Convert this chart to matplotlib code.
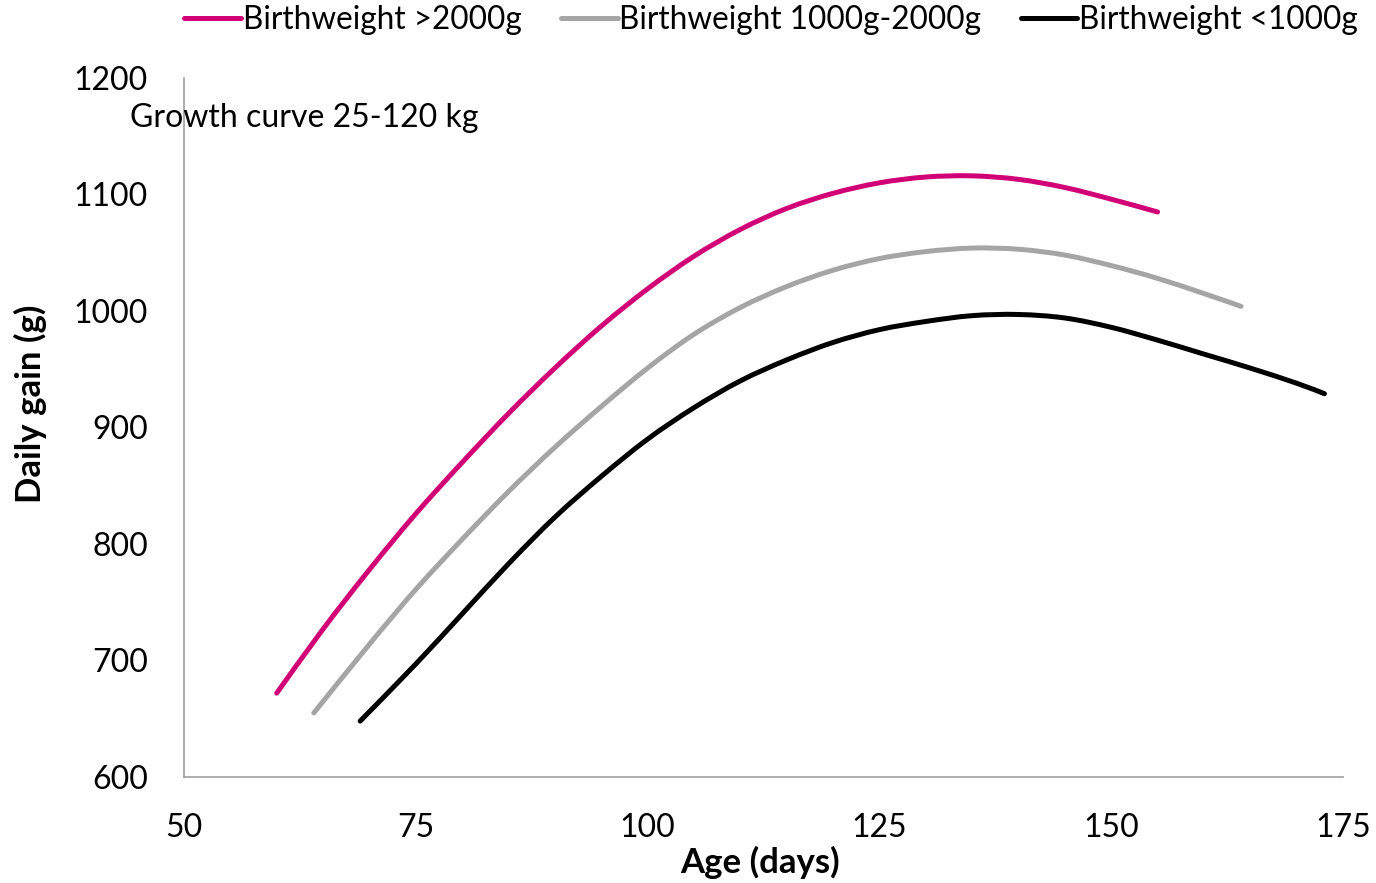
import numpy as np
import matplotlib
matplotlib.use("Agg")
import matplotlib.pyplot as plt
from matplotlib.path import Path
from matplotlib.patches import PathPatch
from matplotlib.lines import Line2D

plt.rcParams['font.family'] = ['Lato', 'DejaVu Sans']

# values
age_heavy = [60, 65, 70, 75, 80, 85, 90, 95, 100, 105, 110, 115, 120, 125, 130, 135, 140, 145, 150, 155]
gain_heavy = [672, 727, 778, 826, 870, 912, 951, 987, 1019, 1047, 1070, 1088, 1101, 1110, 1115, 1116, 1113, 1106, 1096, 1085]

age_mid = [64, 70, 75, 80, 85, 90, 95, 100, 105, 110, 115, 120, 125, 130, 135, 140, 145, 150, 155, 160, 164]
gain_mid = [655, 714, 761, 804, 845, 883, 918, 951, 980, 1003, 1021, 1035, 1045, 1051, 1054, 1053, 1048, 1039, 1028, 1015, 1004]

age_low = [69, 75, 80, 85, 90, 95, 100, 105, 110, 115, 120, 125, 130, 135, 140, 145, 150, 155, 160, 165, 170, 173]
gain_low = [648, 697, 740, 783, 823, 858, 890, 917, 940, 958, 973, 984, 991, 996, 997, 994, 986, 975, 963, 951, 938, 929]

labels = ["Birthweight >2000g", "Birthweight 1000g-2000g", "Birthweight <1000g"]
colors = ["#D10077", "#A5A5A5", "#000000"]


def smooth_path(x, y):
    # Catmull-Rom through the points, as Excel's smoothed line does
    pts = np.column_stack([x, y]).astype(float)
    n = len(pts)
    verts = [pts[0]]
    codes = [Path.MOVETO]
    for i in range(n - 1):
        p_prev = pts[i - 1] if i > 0 else pts[i]
        p_next = pts[i + 2] if i + 2 < n else pts[i + 1]
        c1 = pts[i] + (pts[i + 1] - p_prev) / 6
        c2 = pts[i + 1] - (p_next - pts[i]) / 6
        verts += [c1, c2, pts[i + 1]]
        codes += [Path.CURVE4] * 3
    return Path(verts, codes)


fig = plt.figure(figsize=(13.76, 8.83), dpi=100)
ax = fig.add_axes([184 / 1376, 106 / 883, 1159 / 1376, 699 / 883])

series = [(age_heavy, gain_heavy), (age_mid, gain_mid), (age_low, gain_low)]
handles = []
for (x, y), lab, col in zip(series, labels, colors):
    patch = PathPatch(smooth_path(x, y), facecolor="none", edgecolor=col, lw=3.6,
                      capstyle="round", joinstyle="round", transform=ax.transData)
    ax.add_patch(patch)
    handles.append(Line2D([], [], color=col, lw=3.6, solid_capstyle="round", label=lab))

ax.set_xlim(50, 175)
ax.set_ylim(600, 1200)
ax.set_xticks([50, 75, 100, 125, 150, 175])
ax.set_yticks(range(600, 1201, 100))
ax.tick_params(length=0, labelsize=23, pad=26)

for s in ["top", "right"]:
    ax.spines[s].set_visible(False)
for s in ["left", "bottom"]:
    ax.spines[s].set_color("#A0A0A0")
    ax.spines[s].set_linewidth(1.2)

ax.set_xlabel("Age (days)", fontsize=25, fontweight="bold")
ax.set_ylabel("Daily gain (g)", fontsize=25, fontweight="bold")
ax.xaxis.set_label_coords(0.497, -0.099)
ax.yaxis.set_label_coords(-0.118, 0.534)

fig.text(130 / 1376, 1 - 118 / 883, "Growth curve 25-120 kg", fontsize=23, va="center", ha="left")

fig.legend(handles=handles, loc="center", bbox_to_anchor=(771 / 1376, 1 - 20 / 883), ncol=3, frameon=False,
           fontsize=22.7, handlelength=1.8, handletextpad=0.05, columnspacing=1.25)

fig.savefig("out.png", dpi=100)
